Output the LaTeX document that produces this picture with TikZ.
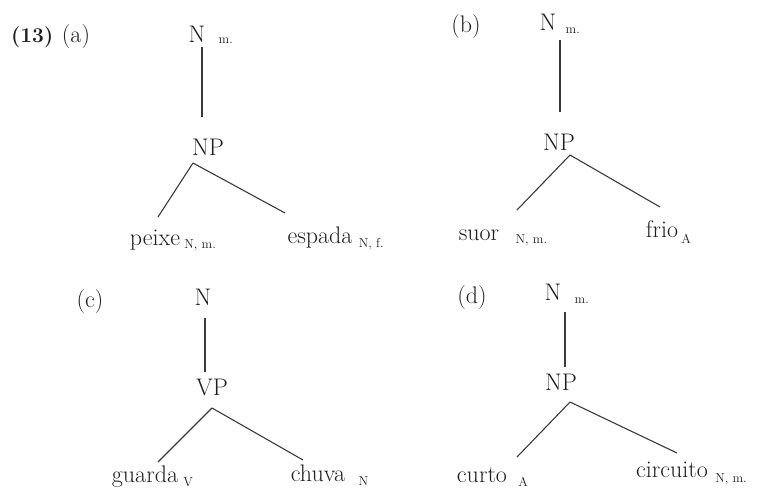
\documentclass[tikz,border=0pt]{standalone}
\usetikzlibrary{positioning}
\definecolor{ink}{HTML}{1E1E1E}
\definecolor{branch}{HTML}{3A3A3A}
\tikzset{
  lbl/.style={inner sep=0pt, anchor=base, text=ink, font=\fontsize{24}{28}\selectfont},
  sub/.style={inner sep=0pt, anchor=base west, text=ink, font=\fontsize{13}{15}\selectfont},
  num/.style={inner sep=0pt, anchor=base west, text=ink, font=\fontsize{21}{25}\selectfont\bfseries},
  branch/.style={draw=branch, line width=1.1pt}
}
\begin{document}
\begin{tikzpicture}[x=1pt,y=-1pt]
\useasboundingbox (0,0) rectangle (765,490);
% ---------- (a)
\node[num] (num) at (11,42) {(13)};
\node[lbl] (la) at (76,42) {(a)};
\node[lbl] (Na) at (197,42) {N};
\node[sub] (Nasub) at ([xshift=13pt,yshift=-1pt]Na.base east) {m.};
\node[lbl] (NPa) at (208,155) {NP};
\node[lbl] (peixe) at (155,245) {peixe};
\node[sub] (peixesub) at ([xshift=4pt,yshift=-3pt]peixe.base east) {N, m.};
\node[lbl] (espada) at (320,243) {espada};
\node[sub] (espadasub) at ([xshift=6pt,yshift=-4pt]espada.base east) {N, f.};
\coordinate (a-v1) at (202,47);
\coordinate (a-v2) at (202,117);
\coordinate (a-ap) at (193,163);
\coordinate (a-l) at (158,217);
\coordinate (a-r) at (285,213);
\draw[branch] (a-v1) -- (a-v2);
\draw[branch] (a-ap) -- (a-l);
\draw[branch] (a-ap) -- (a-r);
% ---------- (b)
\node[lbl] (lb) at (466,32) {(b)};
\node[lbl] (Nb) at (548,30) {N};
\node[sub] (Nbsub) at ([xshift=9pt,yshift=-3pt]Nb.base east) {m.};
\node[lbl] (NPb) at (559,150) {NP};
\node[lbl] (suor) at (479,240) {suor};
\node[sub] (suorsub) at ([xshift=16pt,yshift=-3pt]suor.base east) {N, m.};
\node[lbl] (frio) at (662,237) {frio};
\node[sub] (friosub) at ([xshift=3pt,yshift=-6pt]frio.base east) {A};
\coordinate (b-v1) at (560,40);
\coordinate (b-v2) at (560,112);
\coordinate (b-ap) at (570,155);
\coordinate (b-l) at (517,210);
\coordinate (b-r) at (660,207);
\draw[branch] (b-v1) -- (b-v2);
\draw[branch] (b-ap) -- (b-l);
\draw[branch] (b-ap) -- (b-r);
% ---------- (c)
\node[lbl] (lc) at (90,307) {(c)};
\node[lbl] (Nc) at (203,305) {N};
\node[lbl] (VPc) at (212,395) {VP};
\node[lbl] (guarda) at (145,482) {guarda};
\node[sub] (guardasub) at ([xshift=5pt,yshift=-4pt]guarda.base east) {V};
\node[lbl] (chuva) at (318,481) {chuva};
\node[sub] (chuvasub) at ([xshift=13pt,yshift=-4pt]chuva.base east) {N};
\coordinate (c-v1) at (205,318);
\coordinate (c-v2) at (205,372);
\coordinate (c-ap) at (212,408);
\coordinate (c-l) at (158,462);
\coordinate (c-r) at (303,460);
\draw[branch] (c-v1) -- (c-v2);
\draw[branch] (c-ap) -- (c-l);
\draw[branch] (c-ap) -- (c-r);
% ---------- (d)
\node[lbl] (ld) at (472,303) {(d)};
\node[lbl] (Nd) at (553,300) {N};
\node[sub] (Ndsub) at ([xshift=13pt,yshift=-3pt]Nd.base east) {m.};
\node[lbl] (NPd) at (561,390) {NP};
\node[lbl] (curto) at (482,482) {curto};
\node[sub] (curtosub) at ([xshift=11pt,yshift=-4pt]curto.base east) {A};
\node[lbl] (circuito) at (672,477) {circuito};
\node[sub] (circuitosub) at ([xshift=7pt,yshift=-5pt]circuito.base east) {N, m.};
\coordinate (d-v1) at (565,312);
\coordinate (d-v2) at (565,367);
\coordinate (d-ap) at (570,402);
\coordinate (d-l) at (517,457);
\coordinate (d-r) at (677,453);
\draw[branch] (d-v1) -- (d-v2);
\draw[branch] (d-ap) -- (d-l);
\draw[branch] (d-ap) -- (d-r);
\end{tikzpicture}
\end{document}
